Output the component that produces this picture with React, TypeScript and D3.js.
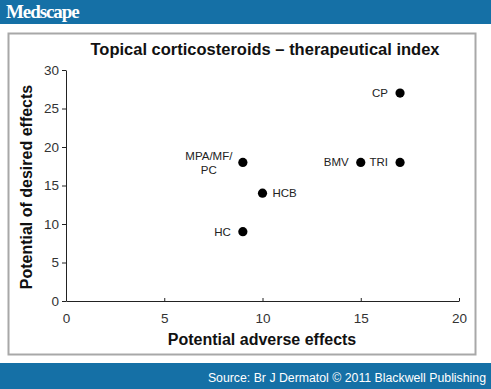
import React, { useEffect, useRef } from "react";
import * as d3 from "d3";

const drugs = ["CP", "BMV", "TRI", "MPA/MF/PC", "HCB", "HC"];
const adverse = [17, 15, 17, 9, 10, 9];
const desired = [27, 18, 18, 18, 14, 9];
const xTicks = [0, 5, 10, 15, 20];
const yTicks = [0, 5, 10, 15, 20, 25, 30];

const W = 491;
const H = 389;
const BLUE = "#1570a6";
const FONT = "'Liberation Sans', Arial, sans-serif";

const App = () => {
  const svgRef = useRef<SVGSVGElement | null>(null);

  useEffect(() => {
    const svg = d3.select(svgRef.current);
    svg.selectAll("*").remove();

    svg.append("rect").attr("width", W).attr("height", H).attr("fill", "#fff");

    // header + footer bars
    svg.append("rect").attr("x", 0).attr("y", 0).attr("width", W).attr("height", 24).attr("fill", BLUE);
    svg.append("text")
      .attr("x", 6).attr("y", 18)
      .attr("fill", "#fff")
      .style("font-family", "'Liberation Serif', 'DejaVu Serif', serif")
      .style("font-size", "19px")
      .style("font-weight", "bold")
      .style("letter-spacing", "-1.1px")
      .text("Medscape");

    svg.append("rect").attr("x", 0).attr("y", 363).attr("width", W).attr("height", H - 363).attr("fill", BLUE);
    svg.append("text")
      .attr("x", 486).attr("y", 382)
      .attr("text-anchor", "end")
      .attr("fill", "#fff")
      .style("font-family", FONT)
      .style("font-size", "12.3px")
      .text("Source: Br J Dermatol \u00a9 2011 Blackwell Publishing");

    // chart frame
    svg.append("rect")
      .attr("x", 8.5).attr("y", 33.5)
      .attr("width", 467).attr("height", 321)
      .attr("fill", "#fff")
      .attr("stroke", "#a8a8a8")
      .attr("stroke-width", 2);

    const x = d3.scaleLinear().domain([0, 20]).range([66, 459]);
    const y = d3.scaleLinear().domain([0, 30]).range([301, 70]);

    const g = svg.append("g");

    // y axis
    const yAxis = g.append("g")
      .attr("transform", `translate(${x(0)},0)`)
      .call(d3.axisLeft(y).tickValues(yTicks).tickSize(4).tickPadding(3).tickSizeOuter(0));
    yAxis.select(".domain").attr("stroke", "#222");
    yAxis.selectAll(".tick line").attr("stroke", "#222");
    yAxis.selectAll("text")
      .style("font-family", FONT).style("font-size", "13.5px").attr("fill", "#333");

    // x axis (ticks upward)
    const xAxis = g.append("g")
      .attr("transform", `translate(0,${y(0)})`)
      .call(d3.axisBottom(x).tickValues(xTicks).tickSize(0).tickPadding(12).tickSizeOuter(0));
    xAxis.select(".domain").attr("stroke", "#222");
    xAxis.selectAll(".tick").append("line")
      .attr("y1", 0).attr("y2", -3).attr("stroke", "#222");
    xAxis.selectAll("text")
      .style("font-family", FONT).style("font-size", "13.5px").attr("fill", "#333");

    // titles
    svg.append("text")
      .attr("x", 265).attr("y", 55)
      .attr("text-anchor", "middle")
      .style("font-family", FONT).style("font-size", "16.5px").style("font-weight", "bold")
      .attr("fill", "#111")
      .text("Topical corticosteroids \u2013 therapeutical index");

    svg.append("text")
      .attr("x", 262).attr("y", 345)
      .attr("text-anchor", "middle")
      .style("font-family", FONT).style("font-size", "16px").style("font-weight", "bold")
      .attr("fill", "#111")
      .text("Potential adverse effects");

    svg.append("text")
      .attr("transform", `translate(32,187) rotate(-90)`)
      .attr("text-anchor", "middle")
      .style("font-family", FONT).style("font-size", "16px").style("font-weight", "bold")
      .attr("fill", "#111")
      .text("Potential of desired effects");

    // points
    const pts = drugs.map((d, i) => ({ name: d, a: adverse[i], e: desired[i] }));
    g.selectAll("circle.pt")
      .data(pts)
      .join("circle")
      .attr("class", "pt")
      .attr("cx", (d) => x(d.a))
      .attr("cy", (d) => y(d.e))
      .attr("r", 4.6)
      .attr("fill", "#000");

    // labels
    const labelStyle = (sel: any) =>
      sel.style("font-family", FONT).style("font-size", "11.5px").attr("fill", "#222");

    pts.forEach((p) => {
      const cx = x(p.a);
      const cy = y(p.e);
      if (p.name === "HCB") {
        labelStyle(g.append("text").attr("x", cx + 10).attr("y", cy + 4).text(p.name));
      } else if (p.name === "MPA/MF/PC") {
        const t = labelStyle(g.append("text").attr("text-anchor", "middle"));
        t.append("tspan").attr("x", cx - 34).attr("y", cy - 2).text("MPA/MF/");
        t.append("tspan").attr("x", cx - 34).attr("y", cy + 12).text("PC");
      } else {
        labelStyle(g.append("text").attr("x", cx - 12).attr("y", cy + 4).attr("text-anchor", "end").text(p.name));
      }
    });
  }, []);

  return <svg ref={svgRef} width={W} height={H} style={{ position: "absolute", left: 0, top: 0 }} />;
};

export default App;
